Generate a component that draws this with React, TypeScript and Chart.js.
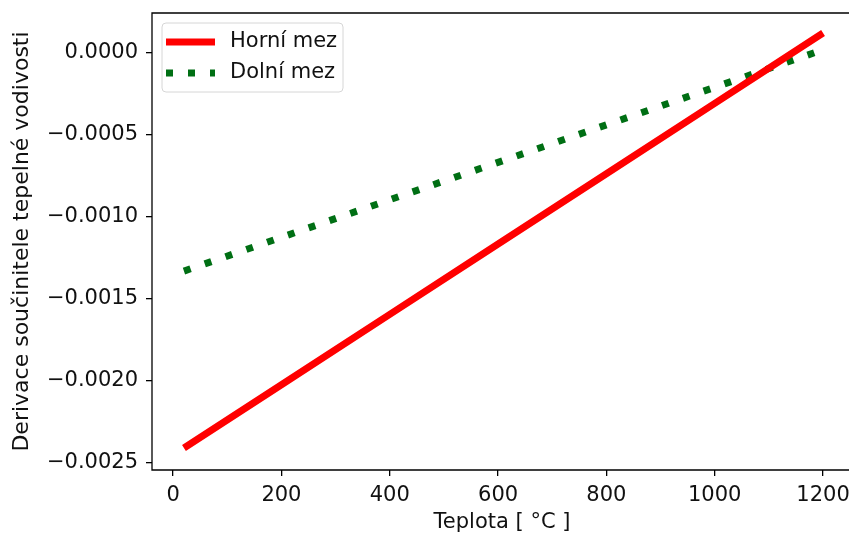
import React, { useEffect, useRef } from "react";
import { Chart, registerables } from "chart.js";

Chart.register(...registerables);

const temps = [20, 200, 400, 600, 800, 1000, 1200];
const upperLimit = [-0.002409, -0.002023, -0.001594, -0.001165, -0.000736, -0.000307, 0.000122];
const lowerLimit = [-0.00133, -0.001124, -0.000895, -0.000667, -0.000438, -0.000209, 0.00002];

const xTicks = [0, 200, 400, 600, 800, 1000, 1200];
const yTicks = [-0.0025, -0.002, -0.0015, -0.001, -0.0005, 0];

const seriesLabels = ["Horní mez", "Dolní mez"];
const xTitle = "Teplota [ °C ]";
const yTitle = "Derivace součinitele tepelné vodivosti";

const FONT = "'DejaVu Sans', sans-serif";
const FS = 21;
const TEXT = "#111";
const RED = "#ff0000";
const GREEN = "#006f14";
const DASH = [7, 15];

const fmtY = (v: number) => {
  const s = Math.abs(v).toFixed(4);
  return v < -1e-12 ? "\u2212" + s : s;
};

const framePlugin = {
  id: "frame",
  afterDraw(chart: any) {
    const { ctx, chartArea } = chart;
    const { left, top, right, bottom } = chartArea;
    ctx.save();
    ctx.strokeStyle = "#000";
    ctx.lineWidth = 1.3;
    ctx.beginPath();
    ctx.moveTo(right, top);
    ctx.lineTo(left, top);
    ctx.lineTo(left, bottom);
    ctx.lineTo(right, bottom);
    ctx.stroke();

    // axis titles
    ctx.fillStyle = TEXT;
    ctx.font = `${FS}px ${FONT}`;
    ctx.textAlign = "center";
    ctx.textBaseline = "middle";
    ctx.fillText(xTitle, 502, 523);
    ctx.save();
    ctx.font = `22px ${FONT}`;
    ctx.translate(22, (top + bottom) / 2);
    ctx.rotate(-Math.PI / 2);
    ctx.fillText(yTitle, 0, 0);
    ctx.restore();

    // legend
    const lx = 162, ly = 23, lw = 181, lh = 69, r = 4;
    ctx.beginPath();
    ctx.moveTo(lx + r, ly);
    ctx.arcTo(lx + lw, ly, lx + lw, ly + lh, r);
    ctx.arcTo(lx + lw, ly + lh, lx, ly + lh, r);
    ctx.arcTo(lx, ly + lh, lx, ly, r);
    ctx.arcTo(lx, ly, lx + lw, ly, r);
    ctx.closePath();
    ctx.fillStyle = "rgba(255,255,255,0.8)";
    ctx.fill();
    ctx.strokeStyle = "#d6d6d6";
    ctx.lineWidth = 1;
    ctx.stroke();

    const rows = [
      { y: 42, color: RED, dash: [] as number[], label: seriesLabels[0] },
      { y: 73, color: GREEN, dash: DASH, label: seriesLabels[1] },
    ];
    rows.forEach((row) => {
      ctx.beginPath();
      ctx.setLineDash(row.dash);
      ctx.lineCap = "butt";
      ctx.strokeStyle = row.color;
      ctx.lineWidth = 7;
      ctx.moveTo(166, row.y);
      ctx.lineTo(215, row.y);
      ctx.stroke();
      ctx.setLineDash([]);
      ctx.fillStyle = TEXT;
      ctx.font = `${FS}px ${FONT}`;
      ctx.textAlign = "left";
      ctx.textBaseline = "middle";
      ctx.fillText(row.label, 230, row.y);
    });
    ctx.restore();
  },
};

const zeroPad = (s: any) => {
  s.paddingTop = 0;
  s.paddingBottom = 0;
  s.paddingLeft = 0;
  s.paddingRight = 0;
};

export default function App() {
  const ref = useRef<HTMLCanvasElement>(null);
  useEffect(() => {
    if (!ref.current) return;
    const chart = new Chart(ref.current, {
      type: "line",
      data: {
        datasets: [
          {
            label: seriesLabels[0],
            data: temps.map((t, i) => ({ x: t, y: upperLimit[i] })),
            borderColor: RED,
            borderWidth: 7,
            pointRadius: 0,
            borderCapStyle: "butt",
          },
          {
            label: seriesLabels[1],
            data: temps.map((t, i) => ({ x: t, y: lowerLimit[i] })),
            borderColor: GREEN,
            borderWidth: 7,
            borderDash: DASH,
            pointRadius: 0,
            borderCapStyle: "butt",
          },
        ],
      },
      options: {
        responsive: false,
        animation: false,
        layout: { padding: { top: 13, right: 5, left: 0, bottom: 0 } },
        plugins: { legend: { display: false }, tooltip: { enabled: false } },
        scales: {
          x: {
            type: "linear",
            min: -39,
            max: 1259,
            afterBuildTicks: (s: any) => {
              s.ticks = xTicks.map((v) => ({ value: v }));
            },
            afterFit: (s: any) => {
              s.height = 65;
              zeroPad(s);
            },
            border: { display: false },
            grid: { drawOnChartArea: false, tickLength: 6, color: "#000", lineWidth: 1.3 },
            ticks: {
              color: TEXT,
              font: { family: FONT, size: FS },
              padding: 7,
              maxRotation: 0,
              callback: (v: any) => String(v),
            },
          },
          y: {
            type: "linear",
            min: -0.002543,
            max: 0.000244,
            afterBuildTicks: (s: any) => {
              s.ticks = yTicks.map((v) => ({ value: v }));
            },
            afterFit: (s: any) => {
              s.width = 152;
              zeroPad(s);
            },
            border: { display: false },
            grid: { drawOnChartArea: false, tickLength: 6, color: "#000", lineWidth: 1.3 },
            ticks: {
              color: TEXT,
              font: { family: FONT, size: FS },
              padding: 8,
              callback: (v: any) => fmtY(v),
            },
          },
        },
      },
      plugins: [framePlugin],
    } as any);
    return () => chart.destroy();
  }, []);
  return (
    <div style={{ position: "absolute", left: 0, top: 0, width: 849, height: 535, overflow: "hidden", background: "#fff" }}>
      <canvas ref={ref} width={860} height={535} style={{ display: "block" }} />
    </div>
  );
}
